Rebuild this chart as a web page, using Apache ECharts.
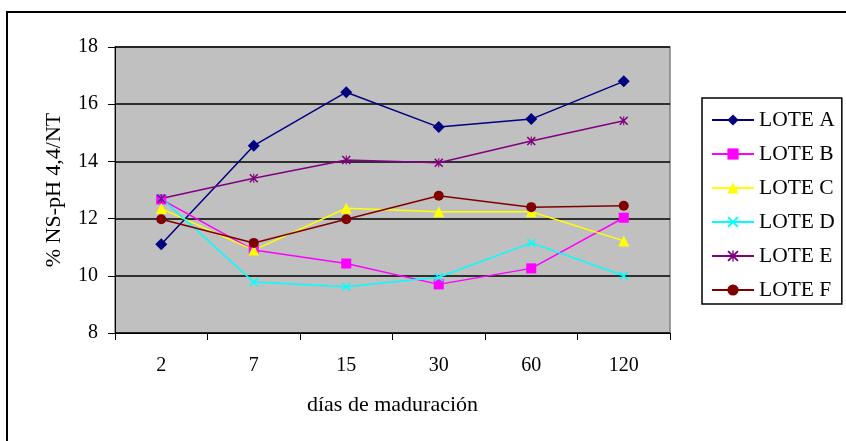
<!DOCTYPE html>
<html>
<head>
<meta charset="utf-8">
<script src="https://cdn.jsdelivr.net/npm/echarts@6/dist/echarts.min.js"></script>
<style>
html,body{margin:0;padding:0;background:#fff;}
#chart{width:846px;height:441px;}
</style>
</head>
<body>
<div id="chart"></div>
<script>
// Days of ripening (categories)
const dias = ['2', '7', '15', '30', '60', '120'];

// % NS-pH 4,4/NT per batch
const loteA = [11.1, 14.55, 16.42, 15.2, 15.48, 16.8];
const loteB = [12.67, 10.9, 10.43, 9.7, 10.26, 12.03];
const loteC = [12.35, 10.9, 12.36, 12.24, 12.24, 11.22];
const loteD = [12.72, 9.78, 9.62, 9.95, 11.15, 10.0];
const loteE = [12.7, 13.41, 14.05, 13.95, 14.71, 15.42];
const loteF = [11.98, 11.15, 11.98, 12.8, 12.4, 12.45];

const serif = 'Liberation Serif, Times New Roman, serif';

// Marker shapes: cross and asterisk as filled paths
const crossPath = 'path://M0,1.2L1.2,0L10,8.8L8.8,10Z M8.8,0L10,1.2L1.2,10L0,8.8Z';
const starPath = 'path://M0,1.2L1.2,0L10,8.8L8.8,10Z M8.8,0L10,1.2L1.2,10L0,8.8Z M4.4,0L5.6,0L5.6,10L4.4,10Z';

function line(name, data, color, symbol, size) {
  return {
    name: name,
    type: 'line',
    data: data,
    symbol: symbol,
    symbolSize: size,
    showAllSymbol: true,
    lineStyle: { color: color, width: 1.5 },
    itemStyle: { color: color, borderWidth: 0 },
    emphasis: { disabled: true },
    animation: false
  };
}

const chart = echarts.init(document.getElementById('chart'), null, { renderer: 'canvas' });
chart.setOption({
  animation: false,
  backgroundColor: '#fff',
  graphic: [{
    // outer frame (runs off the right and bottom edges)
    type: 'rect',
    shape: { x: 7, y: 12, width: 900, height: 500 },
    style: { fill: 'none', stroke: '#000', lineWidth: 2 },
    silent: true,
    z: -1
  }],
  grid: {
    left: 115, top: 47, width: 555, height: 286,
    show: true,
    backgroundColor: '#c0c0c0',
    borderColor: '#808080',
    borderWidth: 1.5
  },
  legend: {
    orient: 'vertical',
    left: 702, top: 98,
    padding: [11, 7, 3, 9],
    itemGap: 12,
    itemWidth: 42,
    itemHeight: 14,
    borderColor: '#000',
    borderWidth: 1.5,
    backgroundColor: '#fff',
    textStyle: { fontFamily: serif, fontSize: 21.5, color: '#000' },
    data: ['LOTE A', 'LOTE B', 'LOTE C', 'LOTE D', 'LOTE E', 'LOTE F']
  },
  xAxis: {
    type: 'category',
    data: dias,
    boundaryGap: true,
    name: 'días de maduración',
    nameLocation: 'middle',
    nameGap: 61,
    nameTextStyle: { fontFamily: serif, fontSize: 22, color: '#000' },
    axisLine: { lineStyle: { color: '#000', width: 1 } },
    axisTick: { show: true, inside: false, length: 7, lineStyle: { color: '#000' } },
    axisLabel: { margin: 23, fontFamily: serif, fontSize: 20, color: '#000' },
    splitLine: { show: false }
  },
  yAxis: {
    type: 'value',
    min: 8, max: 18, interval: 2,
    name: '% NS-pH 4,4/NT',
    nameLocation: 'middle',
    nameGap: 50,
    nameRotate: 90,
    nameTextStyle: { fontFamily: serif, fontSize: 22, color: '#000' },
    axisLine: { show: true, lineStyle: { color: '#000', width: 1 } },
    axisTick: { show: true, inside: false, length: 7, lineStyle: { color: '#000' } },
    axisLabel: { margin: 17, fontFamily: serif, fontSize: 20, color: '#000' },
    splitLine: { show: true, lineStyle: { color: '#000', width: 1.5 } }
  },
  series: [
    line('LOTE A', loteA, '#000080', 'diamond', 12),
    line('LOTE B', loteB, '#ff00ff', 'rect', 10),
    line('LOTE C', loteC, '#ffff00', 'triangle', 11),
    line('LOTE D', loteD, '#00ffff', crossPath, 9),
    line('LOTE E', loteE, '#800080', starPath, 9),
    line('LOTE F', loteF, '#800000', 'circle', 10)
  ]
});
</script>
</body>
</html>
